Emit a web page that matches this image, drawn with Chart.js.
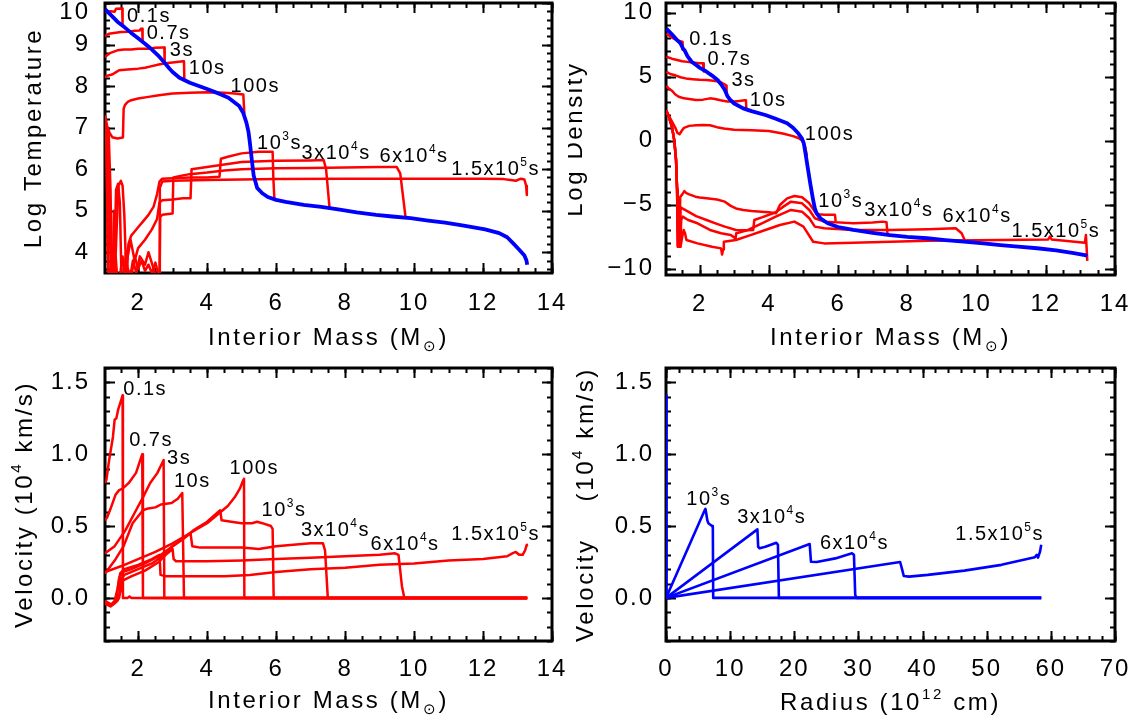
<!DOCTYPE html>
<html>
<head>
<meta charset="utf-8">
<title>Explosion profiles</title>
<script src="https://cdn.jsdelivr.net/npm/chart.js@4.4.1/dist/chart.umd.min.js"></script>
<style>
  html, body { margin:0; padding:0; background:#ffffff; }
  body { width:1136px; height:725px; position:relative; overflow:hidden; }
  .panel { position:absolute; }
  canvas { display:block; }
</style>
</head>
<body>
<div class="panel" style="left:0px;top:0px;"><canvas id="cTemp" width="568" height="362"></canvas></div>
<div class="panel" style="left:568px;top:0px;"><canvas id="cDens" width="568" height="362"></canvas></div>
<div class="panel" style="left:0px;top:362px;"><canvas id="cVm" width="568" height="363"></canvas></div>
<div class="panel" style="left:568px;top:362px;"><canvas id="cVr" width="568" height="363"></canvas></div>
<script>
// ---------------- tick labels ----------------
const massTicks = [2, 4, 6, 8, 10, 12, 14];
const tempTicks = [4, 5, 6, 7, 8, 9, 10];
const densTicks = [-10, -5, 0, 5, 10];
const velTicks  = [0.0, 0.5, 1.0, 1.5];
const radTicks  = [0, 10, 20, 30, 40, 50, 60, 70];

// ---------------- Log Temperature vs interior mass ----------------
const temp_prog = [[1.04,9.85],[1.2,9.72],[1.4,9.55],[1.6,9.42],[1.8,9.28],[2.0,9.15],[2.2,9.02],[2.4,8.88],[2.6,8.72],[2.75,8.58],[2.9,8.43],[3.0,8.34],[3.2,8.2],[3.5,8.08],[4.0,7.93],[4.4,7.8],[4.62,7.72],[4.93,7.52],[5.05,7.35],[5.14,7.12],[5.2,6.9],[5.24,6.64],[5.3,6.2],[5.35,5.85],[5.45,5.55],[5.6,5.42],[5.76,5.33],[6.0,5.26],[6.28,5.21],[6.8,5.14],[7.31,5.09],[7.8,5.03],[8.34,4.96],[8.9,4.9],[9.37,4.86],[9.9,4.82],[10.41,4.76],[10.9,4.71],[11.44,4.64],[12.06,4.55],[12.47,4.46],[12.7,4.36],[12.89,4.2],[13.05,4.06],[13.2,3.92],[13.26,3.8],[13.28,3.7]];
const temp_0p1s = [[1.04,9.78],[1.2,9.8],[1.32,9.79],[1.36,9.86],[1.52,9.87],[1.54,9.87],[1.55,9.47]];
const temp_0p7s = [[1.04,9.2],[1.15,9.26],[1.3,9.28],[1.5,9.3],[1.7,9.31],[1.9,9.33],[2.05,9.34],[2.08,9.38],[2.12,9.38],[2.13,9.08]];
const temp_3s   = [[1.04,8.7],[1.1,8.74],[1.2,8.8],[1.4,8.86],[1.6,8.88],[1.8,8.88],[2.0,8.9],[2.3,8.9],[2.5,8.92],[2.72,8.93],[2.76,8.93],[2.77,8.57]];
const temp_10s  = [[1.04,8.2],[1.1,8.25],[1.25,8.28],[1.35,8.33],[1.45,8.38],[1.7,8.4],[2.0,8.42],[2.2,8.44],[2.4,8.48],[2.6,8.52],[2.8,8.55],[3.0,8.57],[3.3,8.6],[3.33,8.6],[3.34,8.17]];
const temp_100s = [[1.04,7.3],[1.1,7.05],[1.17,6.88],[1.25,6.77],[1.4,6.74],[1.56,6.76],[1.58,7.45],[1.62,7.55],[1.7,7.62],[1.8,7.66],[2.0,7.7],[2.3,7.74],[2.6,7.78],[3.0,7.82],[3.5,7.84],[4.0,7.85],[4.5,7.84],[4.8,7.82],[5.05,7.8],[5.07,7.8],[5.08,7.33]];
const temp_1e3s = [[1.04,7.2],[1.1,6.95],[1.15,6.8],[1.2,5.5],[1.24,3.3],[1.32,3.3],[1.38,4.6],[1.43,5.6],[1.5,5.72],[1.55,5.6],[1.6,4.9],[1.66,3.4],[1.72,4.2],[1.8,4.4],[1.9,4.5],[2.0,4.6],[2.15,4.75],[2.3,4.9],[2.45,5.1],[2.55,5.4],[2.62,5.7],[2.7,5.77],[3.0,5.78],[3.5,5.8],[4.0,5.8],[4.36,5.82],[4.4,6.25],[4.6,6.3],[5.0,6.38],[5.5,6.42],[5.9,6.42],[5.92,5.8],[5.95,5.3]];
const temp_3e4s = [[1.04,7.15],[1.1,6.9],[1.14,6.2],[1.18,4.5],[1.22,3.3],[1.3,3.3],[1.36,5.5],[1.42,5.65],[1.47,5.2],[1.52,3.3],[1.6,3.3],[1.7,3.9],[1.78,4.3],[1.9,3.8],[2.0,4.1],[2.2,4.3],[2.4,4.55],[2.55,4.8],[2.62,5.2],[2.7,5.25],[3.0,5.27],[3.3,5.3],[3.52,5.3],[3.55,6.0],[4.0,6.05],[4.4,6.1],[5.0,6.17],[6.0,6.2],[7.0,6.21],[7.38,6.22],[7.45,6.0],[7.55,5.07]];
const temp_6e4s = [[1.04,7.1],[1.08,6.8],[1.11,5.0],[1.14,3.3],[1.26,3.3],[1.3,5.0],[1.33,3.3],[1.45,3.3],[1.55,3.9],[1.62,3.4],[1.75,3.3],[1.85,3.8],[1.95,3.5],[2.05,3.9],[2.2,3.7],[2.3,4.0],[2.45,3.6],[2.55,3.3],[2.62,3.3],[2.64,4.85],[2.7,4.9],[3.0,4.93],[3.02,5.8],[3.3,5.85],[3.5,5.88],[4.0,5.92],[4.5,5.97],[5.0,6.0],[6.0,6.02],[7.0,6.03],[8.0,6.04],[9.0,6.05],[9.5,6.05],[9.6,5.9],[9.75,4.87]];
const temp_1p5e5s = [[1.04,7.0],[1.08,6.6],[1.12,4.0],[1.16,3.3],[1.3,3.3],[1.35,3.9],[1.4,3.3],[1.58,3.3],[1.65,4.0],[1.7,3.6],[1.8,3.4],[1.9,3.9],[2.0,3.6],[2.1,3.8],[2.2,3.55],[2.3,3.7],[2.4,3.5],[2.5,3.75],[2.58,3.5],[2.61,3.3],[2.63,5.55],[2.7,5.7],[3.0,5.72],[4.0,5.74],[5.0,5.75],[6.0,5.76],[8.0,5.77],[10.0,5.77],[12.0,5.77],[12.6,5.76],[12.8,5.74],[12.95,5.72],[13.1,5.77],[13.2,5.75],[13.25,5.6],[13.27,5.38]];

// ---------------- Log Density vs interior mass ----------------
const dens_prog = [[1.04,8.75],[1.2,8.3],[1.35,7.85],[1.45,7.6],[1.52,7.2],[1.56,7.08],[1.65,6.6],[1.77,6.16],[1.9,5.9],[2.0,5.7],[2.2,5.38],[2.35,5.1],[2.52,4.73],[2.62,4.4],[2.73,3.95],[2.8,3.5],[2.89,3.17],[3.0,2.9],[3.26,2.52],[3.5,2.3],[3.9,2.0],[4.2,1.7],[4.53,1.35],[4.7,1.0],[4.85,0.57],[4.95,0.2],[5.01,-0.21],[5.06,-1.0],[5.12,-2.04],[5.2,-3.4],[5.28,-4.64],[5.33,-5.3],[5.38,-5.68],[5.5,-6.1],[5.7,-6.46],[6.0,-6.75],[6.44,-6.98],[7.0,-7.2],[7.5,-7.38],[8.0,-7.52],[8.57,-7.63],[9.1,-7.77],[9.63,-7.9],[10.2,-8.03],[10.69,-8.16],[11.2,-8.28],[11.75,-8.41],[12.3,-8.58],[12.81,-8.8],[13.13,-8.94],[13.2,-9.02]];
const dens_0p1s = [[1.04,8.35],[1.2,8.05],[1.35,7.85],[1.47,7.75],[1.5,7.7],[1.51,7.1]];
const dens_0p7s = [[1.04,6.55],[1.2,6.4],[1.35,6.3],[1.5,6.2],[1.65,6.15],[1.8,6.1],[2.0,6.05],[2.1,6.04],[2.12,5.4]];
const dens_3s   = [[1.04,5.38],[1.15,5.2],[1.3,5.1],[1.45,4.95],[1.6,4.86],[1.8,4.8],[2.0,4.75],[2.2,4.73],[2.4,4.68],[2.55,4.62],[2.65,4.5],[2.75,4.35],[2.77,4.3],[2.78,3.6]];
const dens_10s  = [[1.04,4.27],[1.12,4.05],[1.2,3.9],[1.3,3.6],[1.4,3.43],[1.55,3.3],[1.7,3.25],[1.9,3.17],[2.1,3.2],[2.3,3.3],[2.45,3.25],[2.6,3.15],[2.8,3.05],[3.0,3.05],[3.15,3.1],[3.3,3.15],[3.34,3.15],[3.35,2.45]];
const dens_100s = [[1.04,2.3],[1.12,1.9],[1.2,1.5],[1.3,1.0],[1.36,0.6],[1.42,0.5],[1.48,0.75],[1.55,1.0],[1.7,1.15],[1.9,1.2],[2.1,1.22],[2.3,1.2],[2.5,1.05],[2.7,0.95],[3.0,0.85],[3.5,0.8],[4.0,0.75],[4.4,0.55],[4.7,0.35],[4.85,0.2],[4.97,0.0],[5.05,-0.5],[5.1,-1.2]];
const dens_1e3s = [[1.04,2.35],[1.12,1.8],[1.2,1.1],[1.27,0.0],[1.32,-1.5],[1.35,-3.8],[1.37,-8.3],[1.42,-8.3],[1.44,-4.4],[1.5,-4.2],[1.56,-3.95],[1.62,-4.1],[1.7,-4.2],[1.88,-4.38],[2.0,-4.45],[2.2,-4.51],[2.5,-4.6],[2.73,-4.77],[2.9,-5.1],[3.05,-5.3],[3.26,-5.42],[3.5,-5.5],[3.79,-5.55],[4.0,-5.6],[4.21,-5.68],[4.32,-5.03],[4.53,-4.51],[4.74,-4.33],[4.96,-4.43],[5.17,-4.9],[5.33,-5.55],[5.45,-5.75],[5.6,-5.8],[5.91,-5.8],[5.93,-6.3]];
const dens_3e4s = [[1.04,2.35],[1.12,1.8],[1.2,1.1],[1.27,0.0],[1.32,-1.5],[1.35,-3.8],[1.38,-8.3],[1.43,-8.3],[1.45,-5.2],[1.5,-5.3],[1.67,-5.55],[1.9,-5.9],[2.2,-6.2],[2.5,-6.5],[2.73,-6.72],[3.05,-6.98],[3.3,-7.0],[3.55,-6.98],[3.58,-6.2],[3.8,-6.0],[4.2,-5.6],[4.4,-5.2],[4.64,-4.77],[4.96,-4.9],[5.17,-5.42],[5.33,-6.07],[5.6,-6.33],[6.44,-6.46],[7.0,-6.4],[7.29,-6.33],[7.4,-6.38],[7.43,-7.35]];
const dens_6e4s = [[1.04,2.35],[1.12,1.8],[1.2,1.1],[1.27,0.0],[1.32,-1.5],[1.35,-3.8],[1.38,-8.3],[1.44,-8.3],[1.47,-6.2],[1.51,-5.94],[1.67,-6.2],[1.94,-6.46],[2.3,-6.98],[2.62,-7.24],[2.9,-7.38],[3.04,-7.64],[3.06,-7.24],[3.4,-6.98],[3.8,-6.46],[4.2,-5.94],[4.64,-5.42],[4.96,-5.55],[5.17,-6.07],[5.33,-6.72],[5.6,-6.85],[6.44,-6.98],[7.5,-6.98],[8.6,-6.92],[9.4,-6.85],[9.57,-7.24],[9.68,-7.9]];
const dens_1p5e5s = [[1.04,2.35],[1.12,1.8],[1.2,1.1],[1.27,0.0],[1.32,-1.5],[1.35,-3.8],[1.38,-8.29],[1.45,-8.3],[1.5,-7.5],[1.54,-6.98],[1.58,-7.24],[1.62,-7.77],[1.94,-8.03],[2.36,-8.29],[2.62,-8.42],[2.65,-8.9],[2.68,-8.5],[2.7,-7.9],[3.05,-7.77],[3.47,-7.38],[3.9,-6.98],[4.32,-6.59],[4.74,-6.33],[5.0,-6.72],[5.28,-7.9],[5.6,-8.03],[6.44,-7.98],[8.6,-7.82],[10.7,-7.77],[12.07,-7.72],[12.12,-7.5],[12.17,-7.72],[13.13,-7.98],[13.16,-7.38],[13.2,-9.4]];

// ---------------- Velocity vs interior mass ----------------
const vel_0p1s = [[1.04,0.8],[1.08,0.82],[1.16,0.96],[1.27,1.12],[1.32,1.24],[1.37,1.25],[1.42,1.31],[1.5,1.37],[1.55,1.41],[1.56,0.0],[1.7,0.0],[1.75,0.01],[1.8,0.0],[13.28,0.0]];
const vel_0p7s = [[1.04,0.54],[1.1,0.56],[1.2,0.62],[1.35,0.72],[1.45,0.75],[1.55,0.76],[1.73,0.8],[1.94,0.87],[2.05,0.95],[2.12,1.0],[2.14,0.0],[13.28,0.0]];
const vel_3s   = [[1.04,0.31],[1.32,0.36],[1.63,0.47],[1.94,0.61],[2.14,0.7],[2.35,0.8],[2.56,0.87],[2.74,0.96],[2.76,0.0],[13.28,0.0]];
const vel_10s  = [[1.04,0.17],[1.32,0.26],[1.58,0.36],[1.84,0.52],[2.14,0.61],[2.25,0.62],[2.5,0.63],[2.66,0.65],[2.97,0.66],[3.15,0.69],[3.28,0.73],[3.33,0.0],[13.28,0.0]];
const vel_100s = [[1.04,0.18],[1.5,0.22],[2.0,0.27],[2.5,0.32],[3.0,0.38],[3.5,0.45],[4.0,0.52],[4.4,0.6],[4.6,0.64],[4.8,0.7],[4.95,0.76],[5.05,0.82],[5.07,0.83],[5.08,0.0],[13.28,0.0]];
const vel_1e3s = [[1.04,-0.03],[1.15,-0.05],[1.28,-0.04],[1.38,0.0],[1.45,0.14],[1.55,0.18],[1.8,0.2],[2.2,0.24],[2.6,0.29],[3.0,0.36],[3.3,0.41],[3.6,0.47],[4.0,0.53],[4.38,0.61],[4.42,0.54],[4.7,0.53],[5.0,0.52],[5.3,0.52],[5.45,0.53],[5.6,0.52],[5.85,0.5],[5.9,0.48],[5.93,0.0],[13.28,0.0]];
const vel_3e4s = [[1.04,-0.04],[1.2,-0.06],[1.35,-0.03],[1.45,0.0],[1.5,0.13],[1.6,0.16],[2.0,0.2],[2.4,0.24],[2.7,0.29],[3.0,0.36],[3.3,0.41],[3.52,0.45],[3.57,0.36],[3.8,0.35],[4.5,0.35],[5.0,0.35],[5.5,0.34],[6.0,0.36],[6.5,0.37],[7.0,0.38],[7.36,0.38],[7.42,0.33],[7.5,0.0],[13.28,0.0]];
const vel_6e4s = [[1.04,-0.02],[1.25,-0.05],[1.4,-0.02],[1.5,0.05],[1.55,0.12],[1.8,0.15],[2.2,0.19],[2.6,0.25],[2.8,0.3],[3.0,0.34],[3.03,0.27],[3.1,0.255],[4.0,0.255],[5.0,0.26],[6.0,0.27],[7.0,0.28],[8.0,0.29],[9.0,0.3],[9.45,0.31],[9.55,0.3],[9.65,0.08],[9.72,0.0],[13.28,0.0]];
const vel_1p5e5s = [[1.04,-0.03],[1.2,-0.05],[1.32,-0.02],[1.4,0.06],[1.48,0.17],[1.6,0.2],[2.0,0.23],[2.4,0.27],[2.62,0.3],[2.65,0.16],[2.8,0.15],[3.5,0.15],[4.5,0.15],[5.24,0.16],[6.0,0.18],[7.0,0.2],[8.0,0.21],[9.0,0.23],[10.0,0.24],[11.0,0.26],[12.0,0.27],[12.7,0.29],[12.85,0.31],[12.95,0.32],[13.05,0.3],[13.15,0.3],[13.22,0.33],[13.27,0.37],[13.28,0.36]];

// ---------------- Velocity vs radius ----------------
const vrad_early  = [[0.02,0.0],[0.03,1.41],[0.04,0.0],[0.05,1.0],[0.06,0.0],[0.07,0.96],[0.08,0.0],[0.09,0.73],[0.1,0.0],[0.12,0.83],[0.13,0.0]];
const vrad_1e3s   = [[0,0],[6.03,0.61],[6.15,0.62],[6.3,0.58],[6.44,0.54],[6.6,0.52],[7.18,0.5],[7.3,0.49],[7.36,0.0],[58.5,0.0]];
const vrad_3e4s   = [[0,0],[14.25,0.477],[14.37,0.356],[14.6,0.345],[15.5,0.356],[17.2,0.384],[17.45,0.37],[17.6,0.0],[58.5,0.0]];
const vrad_6e4s   = [[0,0],[22.4,0.375],[22.6,0.252],[23.5,0.25],[26.4,0.275],[29.0,0.31],[29.3,0.3],[29.5,0.02],[29.7,0.0],[58.5,0.0]];
const vrad_1p5e5s = [[0,0],[36.5,0.25],[36.8,0.2],[37.07,0.152],[37.9,0.148],[40.8,0.16],[46.5,0.19],[52.3,0.23],[57.5,0.283],[57.8,0.3],[58.0,0.28],[58.3,0.32],[58.5,0.37]];

// ---------------- snapshot labels (text, anchor x, anchor y) ----------------
const notesTemp = [['0.1s',1.68,9.71],['0.7s',2.25,9.31],['3s',2.92,8.89],['10s',3.47,8.47],['100s',4.68,8.03],['10^3s',5.45,6.66],['3x10^4s',6.74,6.42],['6x10^4s',9.0,6.35],['1.5x10^5s',11.08,6.03]];
const notesDens = [['0.1s',1.7,8.0],['0.7s',2.23,6.43],['3s',2.92,4.86],['10s',3.45,3.3],['100s',5.04,0.62],['10^3s',5.43,-4.64],['3x10^4s',6.76,-5.29],['6x10^4s',9.02,-5.81],['1.5x10^5s',11.01,-6.93]];
const notesVm   = [['0.1s',1.57,1.46],['0.7s',1.74,1.11],['3s',2.84,0.98],['10s',3.04,0.82],['100s',4.65,0.91],['10^3s',5.58,0.62],['3x10^4s',6.72,0.48],['6x10^4s',8.74,0.38],['1.5x10^5s',11.08,0.45]];
const notesVr   = [['10^3s',3.16,0.70],['3x10^4s',11.09,0.57],['6x10^4s',24.0,0.39],['1.5x10^5s',45.1,0.45]];

// ================= drawing helpers =================
const FONT = '"Liberation Sans", Arial, Helvetica, sans-serif';
const RED = '#ff0000', BLUE = '#0000ff';
const RW = 2.5, BW = 3.8, BW4 = 2.6;

function parseRuns(s) {
  const runs = []; let i = 0, buf = '';
  while (i < s.length) {
    const c = s[i];
    if (c === '^' || c === '_') {
      if (buf) { runs.push({t: buf, m: 'n'}); buf = ''; }
      let t;
      if (s[i + 1] === '{') { const j = s.indexOf('}', i + 2); t = s.slice(i + 2, j); i = j + 1; }
      else { t = s[i + 1]; i += 2; }
      runs.push({t: t, m: c === '^' ? 'sup' : 'sub'});
    } else { buf += c; i++; }
  }
  if (buf) runs.push({t: buf, m: 'n'});
  return runs;
}
function drawRuns(ctx, s, x, y, size, align, spacing) {
  const runs = parseRuns(s);
  let w = 0;
  ctx.letterSpacing = spacing + 'px';
  runs.forEach(r => {
    r.size = r.m === 'n' ? size : Math.round(size * 0.62);
    ctx.font = r.size + 'px ' + FONT;
    r.w = ctx.measureText(r.t).width;
    w += r.w;
  });
  let cx = align === 'center' ? x - w / 2 : x;
  ctx.textAlign = 'left';
  ctx.textBaseline = 'alphabetic';
  runs.forEach(r => {
    ctx.font = r.size + 'px ' + FONT;
    const dy = r.m === 'sup' ? -0.45 * size : (r.m === 'sub' ? 0.24 * size : 0);
    ctx.fillText(r.t, cx, y + dy);
    cx += r.w;
  });
}

const spacingPlugin = {
  id: 'spacing',
  beforeDraw(chart) { chart.ctx.letterSpacing = '2px'; }
};

const framePlugin = {
  id: 'frame',
  beforeDatasetsDraw(chart, args, o) {
    const {ctx, chartArea: a, scales} = chart;
    const xs = scales.x, ys = scales.y;
    ctx.save();
    ctx.strokeStyle = '#000';
    ctx.lineCap = 'butt';
    const seg = (x1, y1, x2, y2) => { ctx.beginPath(); ctx.moveTo(x1, y1); ctx.lineTo(x2, y2); ctx.stroke(); };
    const xTick = (v, len) => { const p = Math.round(xs.getPixelForValue(v)) + 0.5; seg(p, a.bottom, p, a.bottom - len); seg(p, a.top, p, a.top + len); };
    const yTick = (v, len) => { const p = Math.round(ys.getPixelForValue(v)) + 0.5; seg(a.left, p, a.left + len, p); seg(a.right, p, a.right - len, p); };
    ctx.lineWidth = 2;
    const eps = 1e-6;
    for (let v = Math.ceil((xs.min - eps) / o.xMinor) * o.xMinor; v <= xs.max + eps; v += o.xMinor) xTick(v, 5);
    for (let v = Math.ceil((ys.min - eps) / o.yMinor) * o.yMinor; v <= ys.max + eps; v += o.yMinor) yTick(v, 5);
    o.xMajor.forEach(v => { if (v >= xs.min - eps && v <= xs.max + eps) xTick(v, 10); });
    o.yMajor.forEach(v => { if (v >= ys.min - eps && v <= ys.max + eps) yTick(v, 10); });
    ctx.lineWidth = 3;
    ctx.strokeRect(a.left, a.top, a.right - a.left, a.bottom - a.top);
    ctx.restore();
  }
};

const notesPlugin = {
  id: 'notes',
  afterDatasetsDraw(chart, args, o) {
    const {ctx, scales} = chart;
    ctx.save();
    ctx.fillStyle = '#000';
    o.items.forEach(it => {
      const px = scales.x.getPixelForValue(it[1]);
      const py = scales.y.getPixelForValue(it[2]);
      drawRuns(ctx, it[0], px, py + 0.36 * o.size, o.size, 'left', 1.5);
    });
    ctx.restore();
  }
};

const titlesPlugin = {
  id: 'titles',
  afterDraw(chart, args, o) {
    const {ctx, chartArea: a} = chart;
    ctx.save();
    ctx.fillStyle = '#000';
    drawRuns(ctx, o.x, (a.left + a.right) / 2, a.bottom + o.xOff, 24, 'center', 2.6);
    ctx.translate(a.left - o.yOff, (a.top + a.bottom) / 2);
    ctx.rotate(-Math.PI / 2);
    drawRuns(ctx, o.y, 0, 0, 24, 'center', 2.6);
    ctx.restore();
  }
};

const toXY = arr => arr.map(p => ({x: p[0], y: p[1]}));
function ds(label, arr, color, width) {
  return {label: label, data: toXY(arr), borderColor: color, backgroundColor: color, borderWidth: width,
          pointRadius: 0, fill: false, tension: 0, borderJoinStyle: 'round'};
}

function makeChart(id, c) {
  return new Chart(document.getElementById(id), {
    type: 'line',
    data: {datasets: c.datasets},
    options: {
      responsive: false, animation: false, events: [],
      layout: {padding: c.pad},
      plugins: {
        legend: {display: false}, tooltip: {enabled: false},
        frame: c.frame, notes: {items: c.notes, size: 20},
        titles: c.titles
      },
      scales: {
        x: {
          type: 'linear', position: 'bottom', min: c.xmin, max: c.xmax,
          afterBuildTicks: s => { s.ticks = c.xticks.map(v => ({value: v})); },
          afterFit: s => { s.height = c.xh; s.paddingLeft = 0; s.paddingRight = 0; s.paddingTop = 0; s.paddingBottom = 0; },
          grid: {display: false, drawTicks: false}, border: {display: false},
          ticks: {padding: c.xpad, color: '#000', font: {family: FONT, size: 24}, maxRotation: 0, autoSkip: false, callback: c.xfmt}
        },
        y: {
          type: 'linear', position: 'left', min: c.ymin, max: c.ymax,
          afterBuildTicks: s => { s.ticks = c.yticks.map(v => ({value: v})); },
          afterFit: s => { s.width = c.yw; s.paddingLeft = 0; s.paddingRight = 0; s.paddingTop = 0; s.paddingBottom = 0; },
          grid: {display: false, drawTicks: false}, border: {display: false},
          ticks: {padding: c.ypad, color: '#000', font: {family: FONT, size: 24, lineHeight: 0.75}, autoSkip: false, callback: c.yfmt}
        }
      }
    },
    plugins: [spacingPlugin, framePlugin, notesPlugin, titlesPlugin]
  });
}

const intFmt = v => String(v);
const signFmt = v => (v < 0 ? '\u2212' + Math.abs(v) : String(v));

// Panel 1: Log Temperature
makeChart('cTemp', {
  datasets: [
    ds('progenitor', temp_prog, BLUE, BW),
    ds('0.1s', temp_0p1s, RED, RW), ds('0.7s', temp_0p7s, RED, RW), ds('3s', temp_3s, RED, RW),
    ds('10s', temp_10s, RED, RW), ds('100s', temp_100s, RED, RW), ds('1e3s', temp_1e3s, RED, RW),
    ds('3e4s', temp_3e4s, RED, RW), ds('6e4s', temp_6e4s, RED, RW), ds('1.5e5s', temp_1p5e5s, RED, RW)
  ],
  pad: {left: 0, top: 3, right: 16, bottom: 0},
  xmin: 1.04, xmax: 14, ymin: 3.5, ymax: 10,
  xticks: massTicks, yticks: tempTicks, xh: 89, yw: 105, xpad: 16, ypad: 15,
  xfmt: intFmt, yfmt: v => (v === 10 ? ['', '10'] : String(v)),
  frame: {xMajor: massTicks, xMinor: 0.5, yMajor: tempTicks, yMinor: 0.2},
  notes: notesTemp,
  titles: {x: 'Interior Mass (M_\u2299)', y: 'Log Temperature', xOff: 72, yOff: 64}
});

// Panel 2: Log Density
makeChart('cDens', {
  datasets: [
    ds('progenitor', dens_prog, BLUE, BW),
    ds('0.1s', dens_0p1s, RED, RW), ds('0.7s', dens_0p7s, RED, RW), ds('3s', dens_3s, RED, RW),
    ds('10s', dens_10s, RED, RW), ds('100s', dens_100s, RED, RW), ds('1e3s', dens_1e3s, RED, RW),
    ds('3e4s', dens_3e4s, RED, RW), ds('6e4s', dens_6e4s, RED, RW), ds('1.5e5s', dens_1p5e5s, RED, RW)
  ],
  pad: {left: 0, top: 3, right: 21, bottom: 0},
  xmin: 1.03, xmax: 14, ymin: -10.5, ymax: 10.75,
  xticks: massTicks, yticks: densTicks, xh: 87, yw: 98, xpad: 15, ypad: 12,
  xfmt: intFmt, yfmt: signFmt,
  frame: {xMajor: massTicks, xMinor: 0.5, yMajor: densTicks, yMinor: 1},
  notes: notesDens,
  titles: {x: 'Interior Mass (M_\u2299)', y: 'Log Density', xOff: 70, yOff: 84}
});

// Panel 3: Velocity vs interior mass
makeChart('cVm', {
  datasets: [
    ds('0.1s', vel_0p1s, RED, RW), ds('0.7s', vel_0p7s, RED, RW), ds('3s', vel_3s, RED, RW),
    ds('10s', vel_10s, RED, RW), ds('100s', vel_100s, RED, RW), ds('1e3s', vel_1e3s, RED, RW),
    ds('3e4s', vel_3e4s, RED, RW), ds('6e4s', vel_6e4s, RED, RW), ds('1.5e5s', vel_1p5e5s, RED, RW)
  ],
  pad: {left: 0, top: 6, right: 16, bottom: 0},
  xmin: 1.04, xmax: 14, ymin: -0.3, ymax: 1.6,
  xticks: massTicks, yticks: velTicks, xh: 84, yw: 105, xpad: 14, ypad: 15,
  xfmt: intFmt, yfmt: v => v.toFixed(1),
  frame: {xMajor: massTicks, xMinor: 0.5, yMajor: velTicks, yMinor: 0.1},
  notes: notesVm,
  titles: {x: 'Interior Mass (M_\u2299)', y: 'Velocity (10^4 km/s)', xOff: 67, yOff: 73}
});

// Panel 4: Velocity vs radius
makeChart('cVr', {
  datasets: [
    ds('early', vrad_early, BLUE, BW4), ds('1e3s', vrad_1e3s, BLUE, BW4), ds('3e4s', vrad_3e4s, BLUE, BW4),
    ds('6e4s', vrad_6e4s, BLUE, BW4), ds('1.5e5s', vrad_1p5e5s, BLUE, BW4)
  ],
  pad: {left: 0, top: 6, right: 21, bottom: 0},
  xmin: 0, xmax: 70, ymin: -0.3, ymax: 1.6,
  xticks: radTicks, yticks: velTicks, xh: 84, yw: 98, xpad: 14, ypad: 12,
  xfmt: intFmt, yfmt: v => v.toFixed(1),
  frame: {xMajor: radTicks, xMinor: 2, yMajor: velTicks, yMinor: 0.1},
  notes: notesVr,
  titles: {x: 'Radius (10^{12} cm)', y: 'Velocity    (10^4 km/s)', xOff: 69, yOff: 73}
});
</script>
</body>
</html>
